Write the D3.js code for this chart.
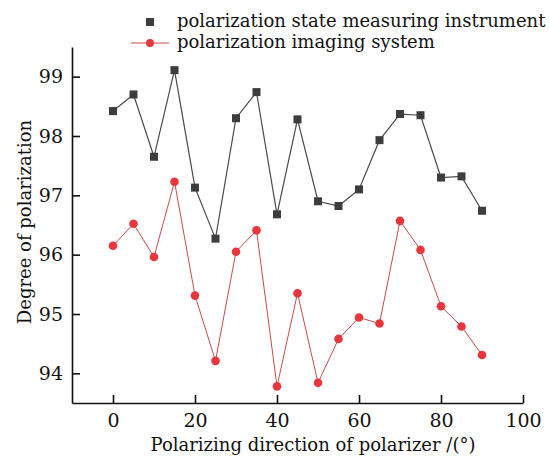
<!DOCTYPE html>
<html>
<head>
<meta charset="utf-8">
<script src="https://cdn.jsdelivr.net/npm/d3@7"></script>
<style>
  body { margin: 0; background: #fff; }
  text { font-family: "DejaVu Serif", serif; fill: #111; }
</style>
</head>
<body>
<div id="chart"></div>
<script>
// polarizer angle (deg)
let angles = [0, 5, 10, 15, 20, 25, 30, 35, 40, 45, 50, 55, 60, 65, 70, 75, 80, 85, 90];
let stateInstrument = [98.42, 98.70, 97.65, 99.11, 97.13, 96.27, 98.30, 98.74, 96.68, 98.28,
                       96.90, 96.82, 97.10, 97.93, 98.37, 98.35, 97.30, 97.32, 96.74];
let imagingSystem = [96.15, 96.52, 95.96, 97.23, 95.31, 94.21, 96.05, 96.41, 93.78, 95.35,
                     93.84, 94.58, 94.94, 94.84, 96.57, 96.08, 95.13, 94.79, 94.31];
let xTicks = [0, 20, 40, 60, 80, 100];
let yTicks = [94, 95, 96, 97, 98, 99];
let seriesNames = ["polarization state measuring instrument", "polarization imaging system"];

let width = 549, height = 459;
let margin = {top: 47, right: 26, bottom: 56, left: 72};

let svg = d3.select("#chart")
    .append("svg")
    .attr("width", width)
    .attr("height", height);

let x = d3.scaleLinear().domain([-10, 100]).range([margin.left, width - margin.right]);
let y = d3.scaleLinear().domain([93.5, 99.5]).range([height - margin.bottom, margin.top]);

// axes, ticks point inward
let xAxis = svg.append("g")
    .attr("transform", "translate(0," + (height - margin.bottom) + ")")
    .call(d3.axisBottom(x).tickValues(xTicks).tickFormat(d3.format("d"))
        .tickSizeInner(-8).tickSizeOuter(0).tickPadding(11));
let yAxis = svg.append("g")
    .attr("transform", "translate(" + margin.left + ",0)")
    .call(d3.axisLeft(y).tickValues(yTicks).tickFormat(d3.format("d"))
        .tickSizeInner(-8).tickSizeOuter(0).tickPadding(9));

[xAxis, yAxis].forEach(function(ax) {
    ax.selectAll("path, line").attr("stroke", "#111").attr("stroke-width", 1.6);
    ax.selectAll("text").attr("fill", "#111").style("font-size", "19px")
      .style("font-family", "'DejaVu Serif', serif");
});

svg.append("text")
    .attr("x", 313)
    .attr("y", 451)
    .attr("text-anchor", "middle")
    .style("font-size", "18px")
    .text("Polarizing direction of polarizer /(°)");

svg.append("text")
    .attr("transform", "translate(31," + 222 + ") rotate(-90)")
    .attr("text-anchor", "middle")
    .style("font-size", "18px")
    .text("Degree of polarization");

let line = d3.line()
    .x(function(d) { return x(d[0]); })
    .y(function(d) { return y(d[1]); });

let blackData = angles.map(function(a, i) { return [a, stateInstrument[i]]; });
let redData = angles.map(function(a, i) { return [a, imagingSystem[i]]; });

svg.append("path")
    .datum(blackData)
    .attr("d", line)
    .attr("fill", "none")
    .attr("stroke", "#4a4a4a")
    .attr("stroke-width", 1.2);

svg.append("path")
    .datum(redData)
    .attr("d", line)
    .attr("fill", "none")
    .attr("stroke", "#c94a4a")
    .attr("stroke-width", 1);

svg.selectAll(".sq")
    .data(blackData)
    .enter().append("rect")
    .attr("class", "sq")
    .attr("x", function(d) { return x(d[0]) - 4; })
    .attr("y", function(d) { return y(d[1]) - 4; })
    .attr("width", 8)
    .attr("height", 8)
    .attr("fill", "#3d3d3d");

svg.selectAll(".dot")
    .data(redData)
    .enter().append("circle")
    .attr("class", "dot")
    .attr("cx", function(d) { return x(d[0]); })
    .attr("cy", function(d) { return y(d[1]); })
    .attr("r", 4.3)
    .attr("fill", "#e8373c");

// legend
let legend = svg.append("g");
legend.append("rect")
    .attr("x", 146).attr("y", 18).attr("width", 8).attr("height", 8)
    .attr("fill", "#3d3d3d");
legend.append("line")
    .attr("x1", 131).attr("x2", 169).attr("y1", 43).attr("y2", 43)
    .attr("stroke", "#c94a4a").attr("stroke-width", 1);
legend.append("circle")
    .attr("cx", 150).attr("cy", 43).attr("r", 4)
    .attr("fill", "#e8373c");
legend.selectAll(".lt")
    .data(seriesNames)
    .enter().append("text")
    .attr("class", "lt")
    .attr("x", 177)
    .attr("y", function(d, i) { return 27 + i * 21; })
    .style("font-size", "18px")
    .text(function(d) { return d; });
</script>
</body>
</html>
